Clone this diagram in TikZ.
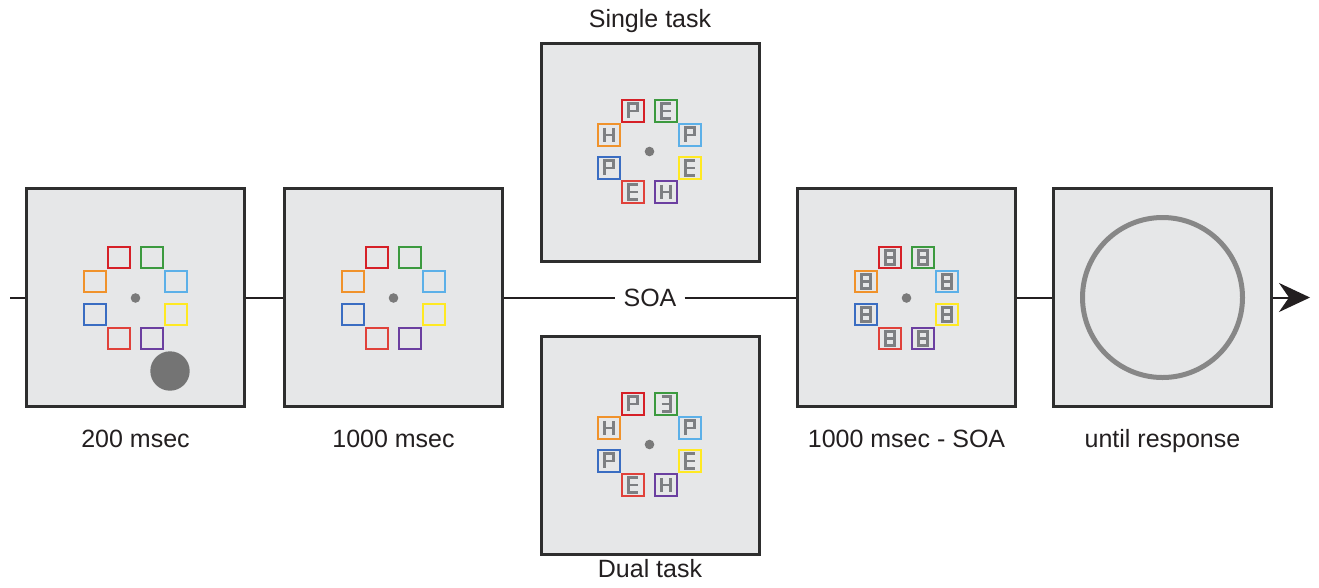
\documentclass[tikz,border=0pt]{standalone}
\usepackage{fontspec}
\setmainfont{Liberation Sans}
\usetikzlibrary{arrows.meta}

\definecolor{panelfill}{HTML}{E6E7E8}
\definecolor{framegray}{HTML}{2E2E2E}
\definecolor{linecol}{HTML}{231F20}
\definecolor{dotgray}{HTML}{7A7A7A}
\definecolor{glyphgray}{HTML}{7D7F82}
\definecolor{cuered}{HTML}{D62027}
\definecolor{cuered2}{HTML}{E0413A}
\definecolor{cuegreen}{HTML}{3C9A3F}
\definecolor{cuesky}{HTML}{5CB0E8}
\definecolor{cueyellow}{HTML}{FFE923}
\definecolor{cuepurple}{HTML}{6B3FA0}
\definecolor{cueblue}{HTML}{3A6DC2}
\definecolor{cueorange}{HTML}{F0922B}

% segment-style letters, drawn around the origin
\newcommand\glyphP{\draw[glyphseg] (-4.5,7.2)--(-4.5,-7.2)--(4.5,-7.2)--(4.5,0)--(-4.5,0);}
\newcommand\glyphE{\draw[glyphseg] (4.5,-7.2)--(-4.5,-7.2)--(-4.5,7.2)--(4.5,7.2) (-4.5,0)--(4.5,0);}
\newcommand\glyphR{\draw[glyphseg] (-4.5,-7.2)--(4.5,-7.2)--(4.5,7.2)--(-4.5,7.2) (-4.5,0)--(4.5,0);}
\newcommand\glyphH{\draw[glyphseg] (-4.5,-7.2)--(-4.5,7.2) (4.5,-7.2)--(4.5,7.2) (-4.5,0)--(4.5,0);}
\newcommand\glyphB{\draw[glyphseg] (-4.5,-7.2) rectangle (4.5,7.2) (-4.5,0)--(4.5,0);}

% ring of eight coloured placeholders with a fixation dot
\newcommand\cuering[2]{%
  \begin{scope}[shift={(#1,#2)}]
    \fill[dotgray] (0,0) circle (4.8);
    \foreach \dx/\dy/\c in {-16.5/-40.5/cuered, 16.5/-40.5/cuegreen,
        40.5/-16.5/cuesky, 40.5/16.5/cueyellow, 16.5/40.5/cuepurple,
        -16.5/40.5/cuered2, -40.5/16.5/cueblue, -40.5/-16.5/cueorange}
      \draw[cuebox, draw=\c] (\dx-10.75,\dy-10.75) rectangle (\dx+10.75,\dy+10.75);
  \end{scope}}

% letters in the ring, listed from the top-left place clockwise
\newcommand\ringletters[3]{%
  \begin{scope}[shift={(#1,#2)}]
    \foreach \dx/\dy/\g in {#3}
      \begin{scope}[shift={(\dx,\dy)}]\csname glyph\g\endcsname\end{scope};
  \end{scope}}

\begin{document}
\begin{tikzpicture}[x=1pt,y=-1pt,
  panel/.style={draw=framegray, line width=3pt, fill=panelfill,
    minimum width=218pt, minimum height=218pt, inner sep=0pt},
  flow/.style={draw=linecol, line width=2pt},
  lbl/.style={font=\fontsize{25}{30}\selectfont, inner sep=0pt, text=linecol},
  cuebox/.style={line width=2.3pt},
  glyphseg/.style={line width=2.8pt, line join=miter, draw=glyphgray}]

\useasboundingbox (0,0) rectangle (1319,587);
\fill[white] (0,0) rectangle (1319,587);

% display panels
\node[panel] (p1) at (135.5,297.5) {};
\node[panel] (p2) at (393.5,297.5) {};
\node[panel] (single) at (650,152) {};
\node[panel] (dual) at (650,445) {};
\node[panel] (p4) at (906.5,297.5) {};
\node[panel] (p5) at (1162.5,297.5) {};

% time line
\coordinate (start) at (10,297.5);
\coordinate (end) at (1310,297.5);
\node[lbl, fill=white, inner xsep=8pt, inner ysep=3pt] (soa) at (650,297.5) {SOA};
\draw[flow] (start) -- (p1.west);
\draw[flow] (p1.east) -- (p2.west);
\draw[flow] (p2.east) -- (soa);
\draw[flow] (soa) -- (p4.west);
\draw[flow] (p4.east) -- (p5.west);
\draw[flow, -{Stealth[length=31pt, width=29pt, inset=10pt]}] (p5.east) -- (end);

% panel contents
\cuering{135.5}{298}
\fill[dotgray!95!black] (170,371) circle (19.7);
\cuering{393.5}{298}
\cuering{649.5}{151.5}
\ringletters{649.5}{151.5}{-16.5/-40.5/P, 16.5/-40.5/E, 40.5/-16.5/P, 40.5/16.5/E,
  16.5/40.5/H, -16.5/40.5/E, -40.5/16.5/P, -40.5/-16.5/H}
\cuering{649.5}{444.5}
\ringletters{649.5}{444.5}{-16.5/-40.5/P, 16.5/-40.5/R, 40.5/-16.5/P, 40.5/16.5/E,
  16.5/40.5/H, -16.5/40.5/E, -40.5/16.5/P, -40.5/-16.5/H}
\cuering{906.5}{298}
\ringletters{906.5}{298}{-16.5/-40.5/B, 16.5/-40.5/B, 40.5/-16.5/B, 40.5/16.5/B,
  16.5/40.5/B, -16.5/40.5/B, -40.5/16.5/B, -40.5/-16.5/B}
\draw[draw=dotgray!90!white, line width=5pt] (1162.5,297.5) circle (80);

% captions
\node[lbl, anchor=base] (c1) at (135.5,447) {200 msec};
\node[lbl, anchor=base] (c2) at (393.5,447) {1000 msec};
\node[lbl, anchor=base] (c4) at (906.5,447) {1000 msec - SOA};
\node[lbl, anchor=base] (c5) at (1162.5,447) {until response};
\node[lbl, anchor=base] (cs) at (650,27) {Single task};
\node[lbl, anchor=base] (cd) at (650,577) {Dual task};
\end{tikzpicture}
\end{document}
